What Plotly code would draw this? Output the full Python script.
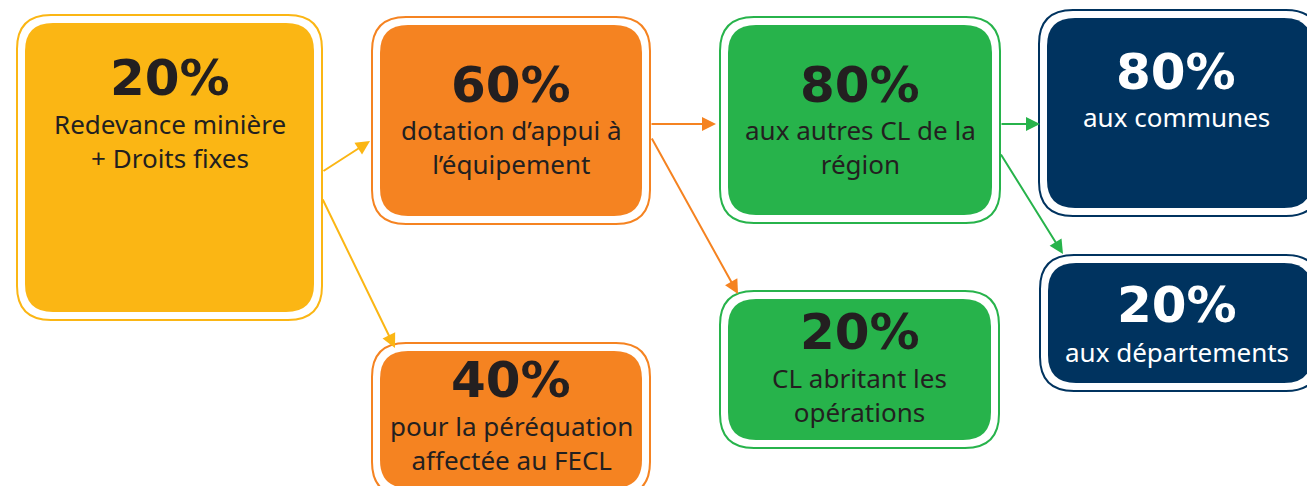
import plotly.graph_objects as go

# Diagram content
percents = ["20%", "60%", "40%", "80%", "20%", "80%", "20%"]
labels = [
    "Redevance minière<br>+ Droits fixes",
    "dotation d’appui à<br>l’équipement",
    "pour la péréquation<br>affectée au FECL",
    "aux autres CL de la<br>région",
    "CL abritant les<br>opérations",
    "aux communes",
    "aux départements",
]
box_colors = ["#FBB614", "#F58321", "#F58321", "#27B34B", "#27B34B", "#00335F", "#00335F"]
text_colors = ["#231F20"] * 5 + ["#FFFFFF"] * 2

# outer border boxes (x0, y0, x1, y1) in pixel space, y downwards
boxes = [
    (17, 15, 322, 320),
    (372, 17, 650, 224),
    (372, 343, 650, 496),
    (720, 17, 1000, 223),
    (720, 291, 999, 448),
    (1039, 10, 1320, 216),
    (1040, 255, 1320, 391),
]
# y of percentage line and label lines
pct_y = [78, 85, 380, 85, 332, 72, 305]
lab_y = [141, 147, 443, 147, 395, 117, 352]

# arrows: (tail_x, tail_y, head_x, head_y, colour index)
arrows = [
    (322, 172, 370, 141, 0),
    (322, 198, 395, 348, 0),
    (650, 124, 716, 124, 1),
    (651, 137, 738, 294, 1),
    (1000, 124, 1040, 124, 3),
    (1000, 153, 1063, 254, 3),
]


def rounded(x0, y0, x1, y1, r):
    return (
        f"M {x0 + r},{y0} L {x1 - r},{y0} Q {x1},{y0} {x1},{y0 + r} "
        f"L {x1},{y1 - r} Q {x1},{y1} {x1 - r},{y1} "
        f"L {x0 + r},{y1} Q {x0},{y1} {x0},{y1 - r} "
        f"L {x0},{y0 + r} Q {x0},{y0} {x0 + r},{y0} Z"
    )


fig = go.Figure()
shapes = []
annotations = []
for i, (x0, y0, x1, y1) in enumerate(boxes):
    col = box_colors[i]
    shapes.append(dict(type="path", path=rounded(x0, y0, x1, y1, 34),
                       xref="x", yref="y", fillcolor="white",
                       line=dict(color=col, width=2)))
    shapes.append(dict(type="path", path=rounded(x0 + 8, y0 + 8, x1 - 8, y1 - 8, 28),
                       xref="x", yref="y", fillcolor=col, line=dict(width=0)))
    cx = (x0 + min(x1, 1313)) / 2 if x1 < 1313 else (x0 + 1313) / 2
    annotations.append(dict(x=cx, y=pct_y[i], xref="x", yref="y", text=percents[i],
                            showarrow=False,
                            font=dict(family="DejaVu Sans", size=50, color=text_colors[i], weight="bold")))
    annotations.append(dict(x=cx, y=lab_y[i], xref="x", yref="y", text=labels[i],
                            showarrow=False, font=dict(family="Noto Sans", size=26, color=text_colors[i])))

for tx, ty, hx, hy, ci in arrows:
    annotations.append(dict(x=hx, y=hy, ax=tx, ay=ty, xref="x", yref="y", axref="x", ayref="y",
                            text="", showarrow=True, arrowhead=2, arrowsize=1.4, arrowwidth=2,
                            arrowcolor=box_colors[ci], standoff=0))

fig.update_layout(
    width=1307,
    height=486,
    margin=dict(l=0, r=0, t=0, b=0),
    paper_bgcolor="white",
    plot_bgcolor="white",
    shapes=shapes,
    annotations=annotations,
    xaxis=dict(range=[0, 1307], visible=False, fixedrange=True),
    yaxis=dict(range=[486, 0], visible=False, fixedrange=True),
    showlegend=False,
)
fig.write_html("out.html", config={"displayModeBar": False},
               post_script="document.body.style.margin='0';")
